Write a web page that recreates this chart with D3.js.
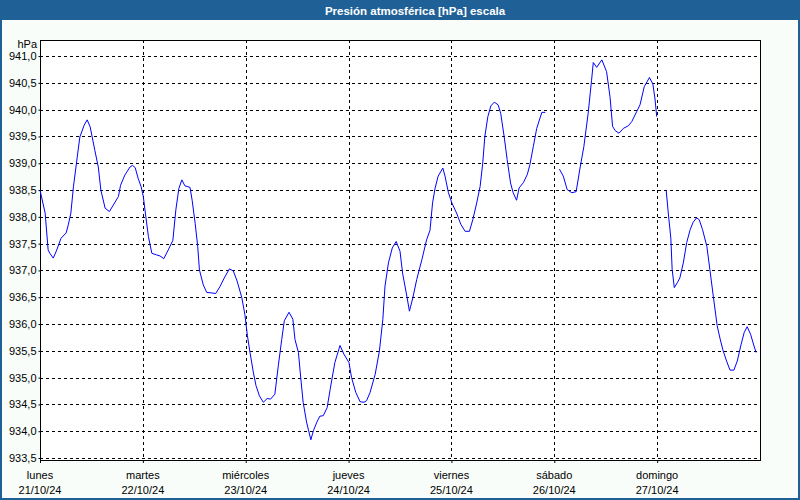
<!DOCTYPE html>
<html>
<head>
<meta charset="utf-8">
<script src="https://cdn.jsdelivr.net/npm/d3@7"></script>
<style>
  html, body { margin: 0; padding: 0; background: #f9fdf9; }
  svg { display: block; }
</style>
</head>
<body>
<svg id="chart" width="800" height="500"></svg>
<script>
// ---- data ----
const chartTitle = "Presión atmosférica [hPa] escala";
const unitLabel = "hPa";
const startDate = new Date(2024, 9, 21, 0, 0);
const endDate = new Date(2024, 9, 28, 0, 0);
const dayNames = ["lunes", "martes", "miércoles", "jueves", "viernes", "sábado", "domingo"];
const dayDates = ["21/10/24", "22/10/24", "23/10/24", "24/10/24", "25/10/24", "26/10/24", "27/10/24"];
const yTicks = [933.5, 934.0, 934.5, 935.0, 935.5, 936.0, 936.5, 937.0, 937.5, 938.0, 938.5, 939.0, 939.5, 940.0, 940.5, 941.0];
// hours since lunes 21/10/24 00:00
const hours = [
  0, 1.2, 1.9, 2.3, 3.1, 3.9, 4.9, 6.1, 6.6, 7.2, 7.8, 8.6, 9.3, 10.3, 11.0, 11.7, 12.8, 13.6, 14.2, 15.2,
  16.2, 17.1, 18.3, 18.8, 19.8, 21.0, 21.6, 22.2, 22.9, 23.6, 24.1, 24.7, 25.3, 26.1, 27.2, 28.0, 28.9, 29.9, 31.0, 31.7,
  32.4, 33.1, 33.8, 35.0, 35.5, 36.2, 36.8, 37.2, 38.1, 38.9, 40.1, 41.0, 42.0, 43.0, 44.2, 45.1, 46.0, 47.1, 47.8, 48.4,
  49.0, 49.8, 50.4, 51.2, 52.1, 53.0, 53.8, 54.8, 55.6, 56.4, 57.0, 58.1, 59.0, 59.5, 60.3, 60.8, 61.4, 62.2, 63.2, 63.8,
  64.6, 65.3, 66.1, 67.0, 67.7, 68.8, 70.0, 70.9, 72.1, 72.7, 73.7, 74.7, 75.6, 76.2, 77.0, 78.2, 79.2, 80.0, 80.5, 81.3,
  82.2, 83.1, 84.0, 84.6, 85.6, 86.2, 87.0, 87.9, 89.1, 90.2, 91.0, 91.6, 92.2, 92.9, 94.0, 94.5, 95.3, 96.1, 97.2, 98.2,
  99.2, 100.2, 101.0, 101.9, 102.7, 103.3, 103.8, 104.5, 105.2, 106.0, 106.9, 107.5, 108.3, 109.0, 109.8, 110.4, 111.2, 111.8, 112.8, 113.7,
  114.3, 115.1, 115.9, 117.1, 117.9, 119.5, 121.2, 122.1, 123.0, 124.1, 125.1, 126.0, 126.9, 127.9, 128.7, 129.1, 129.9, 131.1, 132.2, 133.0,
  133.6, 134.2, 135.1, 136.1, 137.3, 138.1, 139.2, 140.0, 141.0, 142.2, 143.0, 143.5, 143.9, 145.0, 146.1, 146.6, 147.2, 147.5, 148.0, 148.7,
  149.3, 150.1, 150.9, 151.7, 152.4, 153.2, 153.8, 154.6, 155.6, 156.3, 157.1, 158.0, 158.7, 159.4, 160.2, 161.0, 161.9, 162.7, 163.5, 164.3,
  165.0, 165.8, 166.6, 167.1
];
const pressure = [
  938.50, 938.07, 937.38, 937.32, 937.23, 937.38, 937.60, 937.70, 937.85, 938.07, 938.56, 939.06, 939.49, 939.71, 939.81, 939.68, 939.24, 938.93, 938.50, 938.16,
  938.10, 938.22, 938.38, 938.59, 938.78, 938.93, 938.96, 938.92, 938.72, 938.56, 938.38, 938.00, 937.63, 937.32, 937.29, 937.27, 937.22, 937.38, 937.56, 938.13,
  938.53, 938.69, 938.58, 938.55, 938.31, 937.88, 937.45, 937.01, 936.73, 936.59, 936.58, 936.57, 936.70, 936.86, 937.03, 936.99, 936.80, 936.49, 936.18, 935.78,
  935.47, 935.09, 934.85, 934.66, 934.54, 934.61, 934.60, 934.69, 935.22, 935.71, 936.06, 936.22, 936.09, 935.71, 935.47, 935.03, 934.54, 934.17, 933.84, 934.01,
  934.17, 934.28, 934.29, 934.44, 934.78, 935.28, 935.60, 935.44, 935.28, 935.00, 934.72, 934.55, 934.54, 934.57, 934.72, 935.06, 935.50, 936.09, 936.71, 937.14,
  937.42, 937.54, 937.36, 936.95, 936.52, 936.24, 936.49, 936.83, 937.20, 937.57, 937.75, 938.26, 938.54, 938.76, 938.91, 938.76, 938.45, 938.26, 938.07, 937.86,
  937.73, 937.73, 937.95, 938.26, 938.57, 939.00, 939.50, 939.87, 940.07, 940.14, 940.09, 939.93, 939.50, 939.07, 938.63, 938.45, 938.31, 938.54, 938.64, 938.79,
  938.97, 939.31, 939.65, 939.95, 939.95, null, 938.89, 938.76, 938.51, 938.45, 938.47, 938.91, 939.31, 939.93, 940.55, 940.88, 940.79, 940.93, 940.71, 940.24,
  939.69, 939.61, 939.56, 939.65, 939.70, 939.78, 939.96, 940.09, 940.43, 940.60, 940.48, 940.20, 939.87, null, 938.50, 938.07, 937.60, 937.02, 936.68, 936.77,
  936.86, 937.14, 937.52, 937.76, 937.90, 937.98, 937.95, 937.76, 937.45, 937.02, 936.52, 935.97, 935.72, 935.50, 935.31, 935.14, 935.14, 935.31, 935.59, 935.84,
  935.95, 935.81, 935.59, 935.47
];

// ---- chart ----
const W = 800, H = 500;
const plot = { left: 40, right: 760, top: 40, bottom: 460 };
const svg = d3.select("#chart");
const fontFam = "'Liberation Sans', Arial, sans-serif";

// background & frame
svg.append("rect").attr("x", 0).attr("y", 0).attr("width", W).attr("height", H).attr("fill", "#f9fdf9");
svg.append("rect").attr("x", 0).attr("y", 0).attr("width", W).attr("height", 20).attr("fill", "#1f6197");
svg.append("rect").attr("x", 1).attr("y", 1).attr("width", W - 2).attr("height", H - 2)
  .attr("fill", "none").attr("stroke", "#1f6197").attr("stroke-width", 2);

svg.append("text").attr("x", 415).attr("y", 14.5).attr("text-anchor", "middle")
  .attr("font-family", fontFam).attr("font-weight", "bold").attr("font-size", "11.5px")
  .attr("fill", "#ffffff").text(chartTitle);

const x = d3.scaleTime().domain([startDate, endDate]).range([plot.left, plot.right]);
const y = d3.scaleLinear().domain([933.463, 941.3]).range([plot.bottom, plot.top]);

svg.append("rect").attr("x", plot.left).attr("y", plot.top)
  .attr("width", plot.right - plot.left).attr("height", plot.bottom - plot.top).attr("fill", "#ffffff");

const fmt = v => d3.format(".1f")(v).replace(".", ",");

// horizontal grid
const hg = svg.append("g");
hg.selectAll("line").data(yTicks).join("line")
  .attr("x1", plot.left).attr("x2", plot.right)
  .attr("y1", d => Math.round(y(d)) + 0.5).attr("y2", d => Math.round(y(d)) + 0.5)
  .attr("stroke", "#000").attr("stroke-width", 1).attr("stroke-dasharray", "3,3");

// vertical grid (days)
const days = d3.timeDay.range(startDate, endDate);
const vg = svg.append("g");
vg.selectAll("line").data(days.slice(1)).join("line")
  .attr("x1", d => Math.round(x(d)) + 0.5).attr("x2", d => Math.round(x(d)) + 0.5)
  .attr("y1", plot.top).attr("y2", plot.bottom)
  .attr("stroke", "#000").attr("stroke-width", 1).attr("stroke-dasharray", "3,3");

// axes
const yAxis = d3.axisLeft(y).tickValues(yTicks).tickFormat(fmt).tickSize(2).tickPadding(2);
const gy = svg.append("g").attr("transform", `translate(${plot.left + 0.5},0)`).call(yAxis);
gy.select(".domain").remove();
gy.selectAll("text").attr("font-family", fontFam).attr("font-size", "11px").attr("fill", "#000");

const xAxis = d3.axisBottom(x).tickValues(days).tickSize(3).tickFormat("");
const gx = svg.append("g").attr("transform", `translate(0,${plot.bottom})`).call(xAxis);
gx.select(".domain").remove();

const lab = svg.append("g").attr("font-family", fontFam).attr("font-size", "11px").attr("fill", "#000").attr("text-anchor", "middle");
lab.selectAll("text.dn").data(days).join("text").attr("class", "dn")
  .attr("x", d => x(d)).attr("y", 479).text((d, i) => dayNames[i]);
lab.selectAll("text.dd").data(days).join("text").attr("class", "dd")
  .attr("x", d => x(d)).attr("y", 494).text((d, i) => dayDates[i]);

svg.append("text").attr("x", 37).attr("y", 47.5).attr("text-anchor", "end")
  .attr("font-family", fontFam).attr("font-size", "11px").attr("fill", "#000").text(unitLabel);

// plot border
svg.append("rect").attr("x", plot.left + 0.5).attr("y", plot.top + 0.5)
  .attr("width", plot.right - plot.left).attr("height", plot.bottom - plot.top)
  .attr("fill", "none").attr("stroke", "#000").attr("stroke-width", 1);

// line
const data = hours.map((h, i) => ({ t: d3.timeMinute.offset(startDate, Math.round(h * 60)), v: pressure[i] }));
const line = d3.line().defined(d => d.v !== null).x(d => x(d.t)).y(d => y(d.v));
svg.append("path").datum(data).attr("d", line)
  .attr("fill", "none").attr("stroke", "#0000ff").attr("stroke-width", 1);
</script>
</body>
</html>
